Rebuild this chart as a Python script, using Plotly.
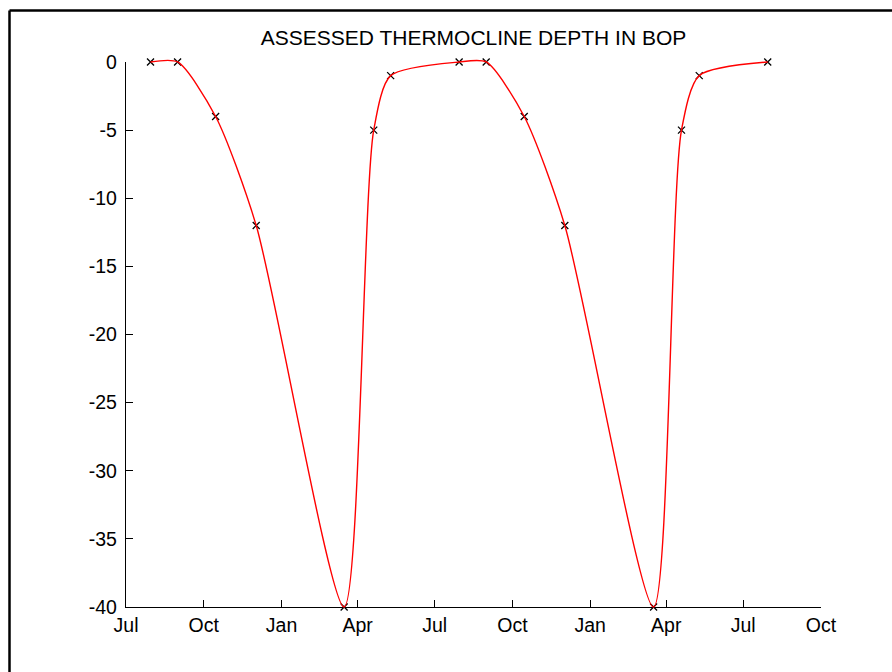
import plotly.graph_objects as go

# Observation dates and assessed thermocline depth (m) in the BOP
obs_dates = [
    "2001-07-30", "2001-08-31", "2001-10-15", "2001-12-02",
    "2002-03-16", "2002-04-20", "2002-05-10", "2002-07-30",
    "2002-08-31", "2002-10-15", "2002-12-02", "2003-03-17",
    "2003-04-19", "2003-05-10", "2003-07-30",
]
depth = [0, 0, -4, -12, -40, -5, -1, 0, 0, -4, -12, -40, -5, -1, 0]

# Axis ticks
x_tick_dates = ["2001-07-01", "2001-10-01", "2002-01-01", "2002-04-01",
                "2002-07-01", "2002-10-01", "2003-01-01", "2003-04-01",
                "2003-07-01", "2003-10-01"]
x_tick_labels = ["Jul", "Oct", "Jan", "Apr", "Jul", "Oct", "Jan", "Apr", "Jul", "Oct"]
y_tick_vals = [-40, -35, -30, -25, -20, -15, -10, -5, 0]
y_tick_labels = ["-40", "-35", "-30", "-25", "-20", "-15", "-10", "-5", "0"]
Y_MIN, Y_MAX = -40, 0

FONT = "Liberation Sans, Arial, sans-serif"

# figure size and pixel position of the axes
W, H = 892, 672
AX_LEFT, AX_RIGHT = 126, 821      # x pixels of first/last date tick
AX_TOP, AX_BOTTOM = 61.5, 607     # y pixels of Y_MAX / Y_MIN
PAD = 6                           # extra room so the curve on the edges is not clipped

L, R = AX_LEFT, W - AX_RIGHT
T, B = AX_TOP - PAD, H - AX_BOTTOM - PAD
PW, PH = W - L - R, H - T - B

# the visible y axis occupies the inner part of the plotting area
dom0 = PAD / PH
dom1 = 1 - PAD / PH
# the curve's axis spans the whole plotting area with the same scale
units_per_px = (Y_MAX - Y_MIN) / (AX_BOTTOM - AX_TOP)
curve_range = [Y_MIN - PAD * units_per_px, Y_MAX + PAD * units_per_px]


def px_x(px):
    return (px - L) / PW


def px_y(py):
    return (H - B - py) / PH


fig = go.Figure()

# smooth red curve through the observations
fig.add_trace(go.Scatter(
    x=obs_dates, y=depth, mode="lines", yaxis="y2",
    line=dict(color="#ff0000", width=1.4, shape="spline", smoothing=0.7),
    hoverinfo="skip", showlegend=False,
))
# observation markers
fig.add_trace(go.Scatter(
    x=obs_dates, y=depth, mode="markers", yaxis="y",
    marker=dict(symbol="x-thin", size=7, line=dict(color="#000000", width=1.3)),
    cliponaxis=False, showlegend=False,
))

axis_common = dict(
    showgrid=False, zeroline=False, showline=True, linecolor="#000000",
    linewidth=1.3, ticks="inside", ticklen=7, tickwidth=1.3, tickcolor="#000000",
    tickfont=dict(family=FONT, size=19.5, color="#000000"), mirror=False,
)

fig.update_layout(
    width=W, height=H,
    margin=dict(l=L, r=R, t=T, b=B),
    paper_bgcolor="#ffffff", plot_bgcolor="rgba(0,0,0,0)",
    title=dict(
        text="ASSESSED THERMOCLINE DEPTH IN BOP",
        font=dict(family=FONT, size=21, color="#000000"),
        x=0.5, xref="paper", xanchor="center",
        y=1 - 38 / H, yref="container", yanchor="middle",
    ),
    xaxis=dict(
        type="date", range=["2001-07-01", "2003-10-01"], anchor="y",
        tickmode="array", tickvals=x_tick_dates, ticktext=x_tick_labels,
        ticklabelstandoff=0, **axis_common,
    ),
    yaxis=dict(
        domain=[dom0, dom1], range=[Y_MIN, Y_MAX], anchor="x",
        tickmode="array", tickvals=y_tick_vals,
        ticktext=y_tick_labels, ticklabelstandoff=4, **axis_common,
    ),
    yaxis2=dict(
        domain=[0, 1], range=curve_range, anchor="x", visible=False,
        showgrid=False, zeroline=False,
    ),
    shapes=[
        # frame around the figure (left and top edges)
        dict(type="line", xref="paper", yref="paper",
             x0=px_x(9.5), x1=px_x(900), y0=px_y(10), y1=px_y(10),
             line=dict(color="#000000", width=2.5)),
        dict(type="line", xref="paper", yref="paper",
             x0=px_x(9.5), x1=px_x(9.5), y0=px_y(10), y1=px_y(700),
             line=dict(color="#000000", width=2.5)),
    ],
)

fig.write_html("out.html")
